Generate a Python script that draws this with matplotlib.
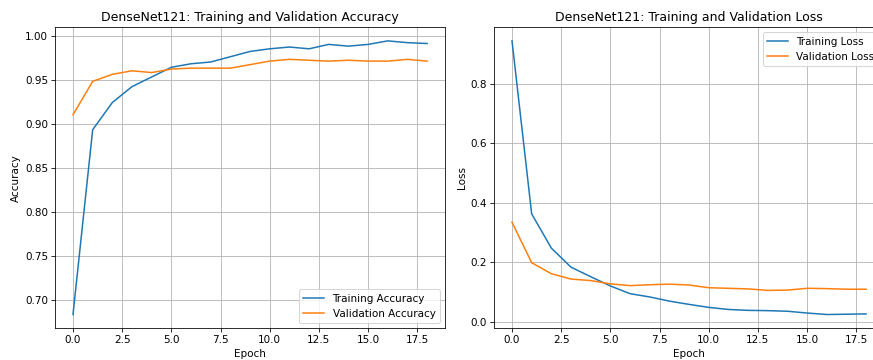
import matplotlib
matplotlib.use("Agg")
import matplotlib.pyplot as plt

epochs = list(range(19))
train_acc = [0.684, 0.894, 0.925, 0.943, 0.954, 0.965, 0.969, 0.971, 0.977, 0.983,
             0.986, 0.988, 0.986, 0.991, 0.989, 0.991, 0.995, 0.993, 0.992]
val_acc = [0.911, 0.949, 0.957, 0.961, 0.959, 0.963, 0.964, 0.964, 0.964, 0.968,
           0.972, 0.974, 0.973, 0.972, 0.973, 0.972, 0.972, 0.974, 0.972]
train_loss = [0.944, 0.363, 0.248, 0.184, 0.152, 0.121, 0.095, 0.084, 0.070, 0.059,
              0.049, 0.042, 0.039, 0.038, 0.036, 0.030, 0.025, 0.026, 0.027]
val_loss = [0.335, 0.199, 0.162, 0.144, 0.139, 0.128, 0.122, 0.125, 0.127, 0.124,
            0.115, 0.113, 0.111, 0.106, 0.107, 0.113, 0.112, 0.110, 0.110]

plt.rcParams["font.size"] = 10.3
plt.rcParams["axes.titlesize"] = 12.4

fig = plt.figure(figsize=(12, 360 / 72.75), dpi=72.75)
W, H = 873, 360
ax1 = fig.add_axes([55.3 / W, (H - 328.2) / H, 389.5 / W, 301 / H])
ax2 = fig.add_axes([494.3 / W, (H - 328.2) / H, 389.5 / W, 301 / H])

ax1.plot(epochs, train_acc, label="Training Accuracy")
ax1.plot(epochs, val_acc, label="Validation Accuracy")
ax1.set_title("DenseNet121: Training and Validation Accuracy")
ax1.set_xlabel("Epoch")
ax1.set_ylabel("Accuracy")
ax1.legend(loc="lower right")
ax1.grid(True)

ax2.plot(epochs, train_loss, label="Training Loss")
ax2.plot(epochs, val_loss, label="Validation Loss")
ax2.set_title("DenseNet121: Training and Validation Loss")
ax2.set_xlabel("Epoch")
ax2.set_ylabel("Loss")
ax2.legend(loc="upper right")
ax2.grid(True)

fig.savefig("out.png", dpi=72.75)
